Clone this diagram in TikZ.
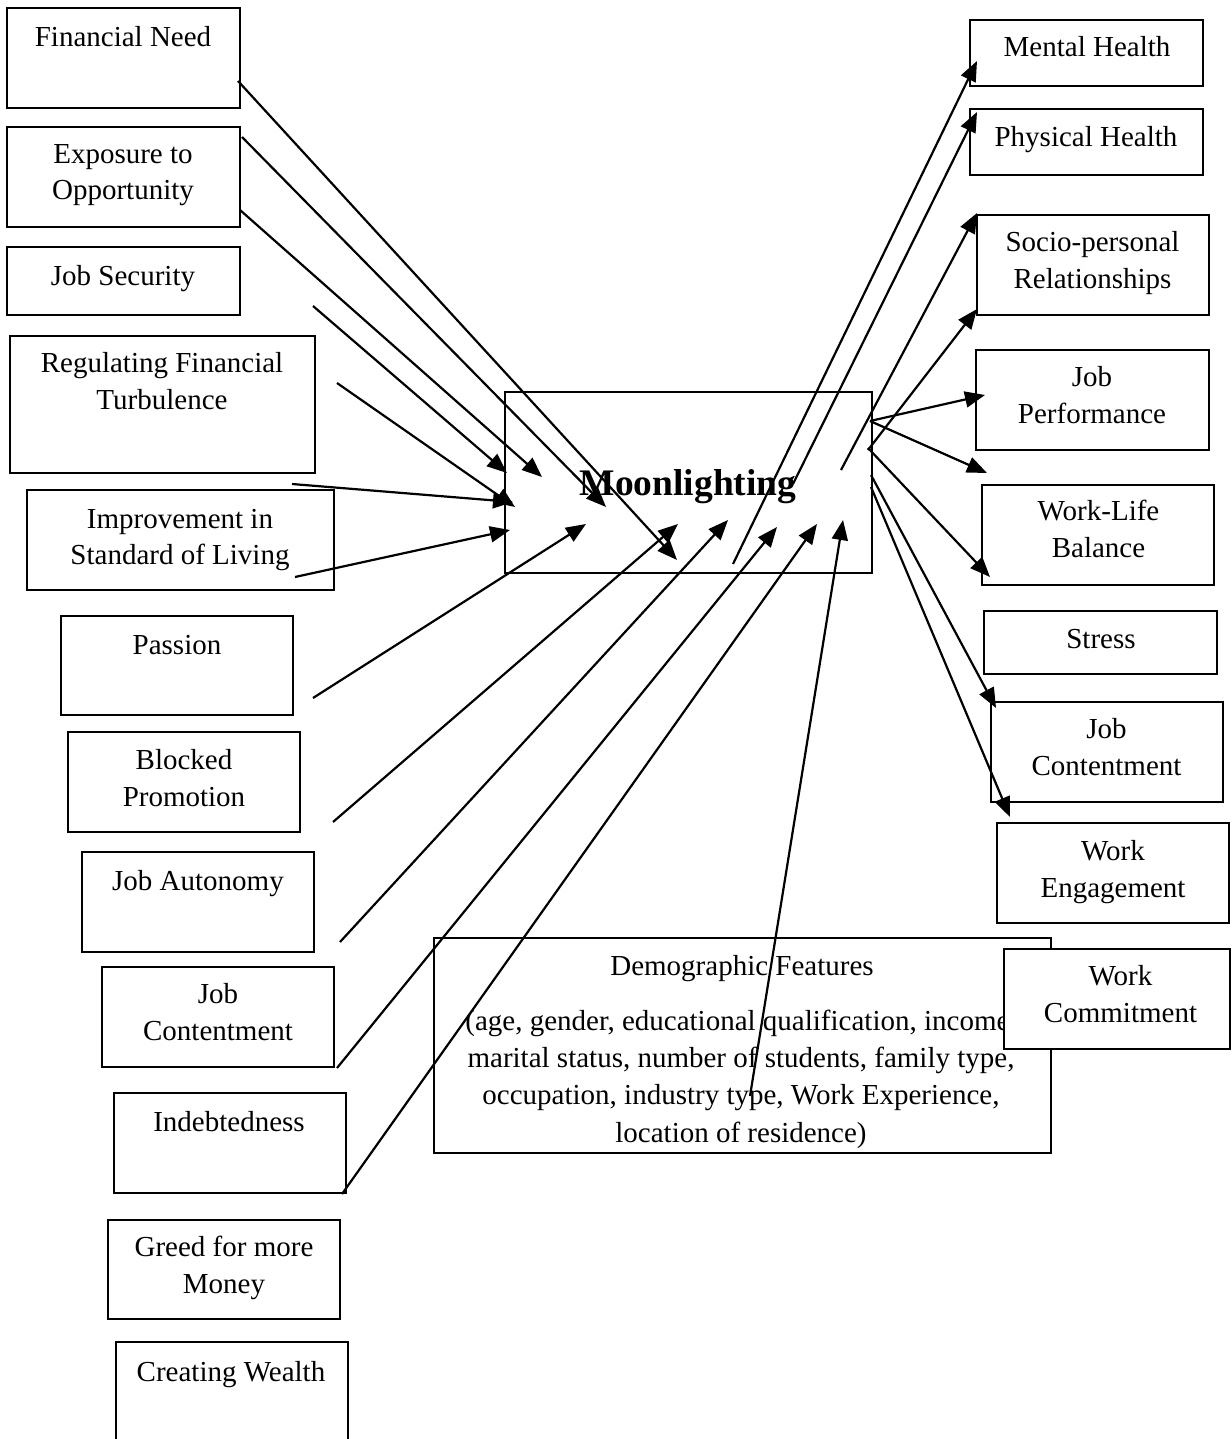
\documentclass[tikz,border=0pt]{standalone}
\usepackage{fontspec}
\setmainfont{Liberation Serif}
\usetikzlibrary{arrows.meta}
\begin{document}
\begin{tikzpicture}[x=1pt,y=-1pt,
  box/.style={draw=black,line width=1.2pt,inner sep=0pt,outer sep=0pt,anchor=north west},
  whitebox/.style={box,fill=white},
  lbl/.style={inner sep=0pt,anchor=base,align=center,font=\fontsize{29}{36.5}\selectfont},
  demolbl/.style={inner sep=0pt,anchor=base,align=center,font=\fontsize{29}{37.3}\selectfont},
  moonlbl/.style={inner sep=0pt,anchor=base,font=\fontsize{37.5}{40}\selectfont\bfseries},
  conn/.style={line width=2.2pt,-{Triangle[length=20pt,width=16pt]}},
]
\useasboundingbox (0,0) rectangle (1231,1439);
\clip (0,0) rectangle (1231,1439);

% ---------- left boxes ----------
\node[box,minimum width=233pt,minimum height=100pt] (fin) at (7,8) {};
\node[box,minimum width=233pt,minimum height=100pt] (expo) at (7,127) {};
\node[box,minimum width=233pt,minimum height=68pt] (jobsec) at (7,247) {};
\node[box,minimum width=305pt,minimum height=137pt] (reg) at (10,336) {};
\node[box,minimum width=307pt,minimum height=100pt] (impr) at (27,490) {};
\node[box,minimum width=232pt,minimum height=99pt] (passion) at (61,616) {};
\node[box,minimum width=232pt,minimum height=100pt] (blocked) at (68,732) {};
\node[box,minimum width=232pt,minimum height=100pt] (autonomy) at (82,852) {};
\node[box,minimum width=232pt,minimum height=100pt] (jobcontL) at (102,967) {};
\node[box,minimum width=232pt,minimum height=100pt] (indebt) at (114,1093) {};
\node[box,minimum width=232pt,minimum height=99pt] (greed) at (108,1220) {};
\node[box,minimum width=232pt,minimum height=100pt] (wealth) at (116,1342) {};

% (anchor base = baseline of the last line)
\node[lbl] (finT) at (123,47) {Financial Need};
\node[lbl] (expoT) at (123,200) {Exposure to\\Opportunity};
\node[lbl] (jobsecT) at (123,285) {Job Security};
\node[lbl] (regT) at (162,409) {Regulating Financial\\Turbulence};
\node[lbl] (imprT) at (180,564.5) {Improvement in\\Standard of Living};
\node[lbl] (passionT) at (177,654.5) {Passion};
\node[lbl] (blockedT) at (184,806) {Blocked\\Promotion};
\node[lbl] (autonomyT) at (198,890.5) {Job Autonomy};
\node[lbl] (jobcontLT) at (218,1040) {Job\\Contentment};
\node[lbl] (indebtT) at (229,1131) {Indebtedness};
\node[lbl] (greedT) at (224,1293) {Greed for more\\Money};
\node[lbl] (wealthT) at (231,1381) {Creating Wealth};

% ---------- centre ----------
\node[box,minimum width=367pt,minimum height=181pt] (moon) at (505,392) {};
\node[moonlbl] (moonT) at (688,495) {Moonlighting};

% ---------- demographic ----------
\node[box,minimum width=617pt,minimum height=215pt] (demo) at (434,938) {};
\node[demolbl] (demoT) at (742,975) {Demographic Features};
\node[demolbl] (demoB) at (741,1142) {(age, gender, educational qualification, income,\\marital status, number of students, family type,\\occupation, industry type, Work Experience,\\location of residence)};

% ---------- right boxes ----------
\node[box,minimum width=233pt,minimum height=66pt] (mental) at (970,20) {};
\node[box,minimum width=233pt,minimum height=66pt] (physical) at (970,109) {};
\node[box,minimum width=232pt,minimum height=100pt] (socio) at (977,215) {};
\node[box,minimum width=233pt,minimum height=100pt] (jobperf) at (976,350) {};
\node[box,minimum width=232pt,minimum height=100pt] (worklife) at (982,485) {};
\node[box,minimum width=233pt,minimum height=63pt] (stress) at (984,611) {};
\node[box,minimum width=232pt,minimum height=100pt] (jobcontR) at (991,702) {};
\node[box,minimum width=232pt,minimum height=100pt] (workeng) at (997,823) {};
\node[whitebox,minimum width=226pt,minimum height=100pt] (workcom) at (1004,949) {};

\node[lbl] (mentalT) at (1087,57) {Mental Health};
\node[lbl] (physicalT) at (1086,147) {Physical Health};
\node[lbl] (socioT) at (1092.5,288) {Socio-personal\\Relationships};
\node[lbl] (jobperfT) at (1092,423) {Job\\Performance};
\node[lbl] (worklifeT) at (1098.5,557) {Work-Life\\Balance};
\node[lbl] (stressT) at (1101,648) {Stress};
\node[lbl] (jobcontRT) at (1106.5,775) {Job\\Contentment};
\node[lbl] (workengT) at (1113,897) {Work\\Engagement};
\node[lbl] (workcomT) at (1120.5,1022) {Work\\Commitment};

% ---------- connector end points ----------
\coordinate (s1) at (238,81);   \coordinate (t1) at (677,560);
\coordinate (s2) at (242,137);  \coordinate (t2) at (606,507);
\coordinate (s3) at (240,210);  \coordinate (t3) at (542,477);
\coordinate (s4) at (313,306);  \coordinate (t4) at (507,473);
\coordinate (s5) at (337,383);  \coordinate (t5) at (515,507);
\coordinate (s6) at (292,484);  \coordinate (t6) at (513,502);
\coordinate (s7) at (295,577);  \coordinate (t7) at (510,530);
\coordinate (s8) at (313,698);  \coordinate (t8) at (586,524);
\coordinate (s9) at (333,822);  \coordinate (t9) at (678,524);
\coordinate (s10) at (340,942); \coordinate (t10) at (728,520);
\coordinate (s11) at (337,1068);\coordinate (t11) at (777,527);
\coordinate (s12) at (342,1194);\coordinate (t12) at (817,524);
\coordinate (s13) at (750,1096);\coordinate (t13) at (843,520);

\coordinate (r1) at (733,564);  \coordinate (u1) at (977,61);
\coordinate (r2) at (793,484);  \coordinate (u2) at (977,112);
\coordinate (r3) at (841,470);  \coordinate (u3) at (977,213);
\coordinate (r4) at (868,450);  \coordinate (u4) at (977,309);
\coordinate (r5) at (870,421);  \coordinate (u5) at (985,395);
\coordinate (u6) at (987,473);
\coordinate (r7) at (868,448);  \coordinate (u7) at (990,577);
\coordinate (r8) at (871,475);  \coordinate (u8) at (996,708);
\coordinate (r9) at (871,487);  \coordinate (u9) at (1010,817);

% ---------- connectors ----------
\foreach \i in {1,...,13} {\draw[conn] (s\i) -- (t\i);}
\draw[conn] (r1) -- (u1);
\draw[conn] (r2) -- (u2);
\draw[conn] (r3) -- (u3);
\draw[conn] (r4) -- (u4);
\draw[conn] (r5) -- (u5);
\draw[conn] (r5) -- (u6);
\draw[conn] (r7) -- (u7);
\draw[conn] (r8) -- (u8);
\draw[conn] (r9) -- (u9);
\end{tikzpicture}
\end{document}
